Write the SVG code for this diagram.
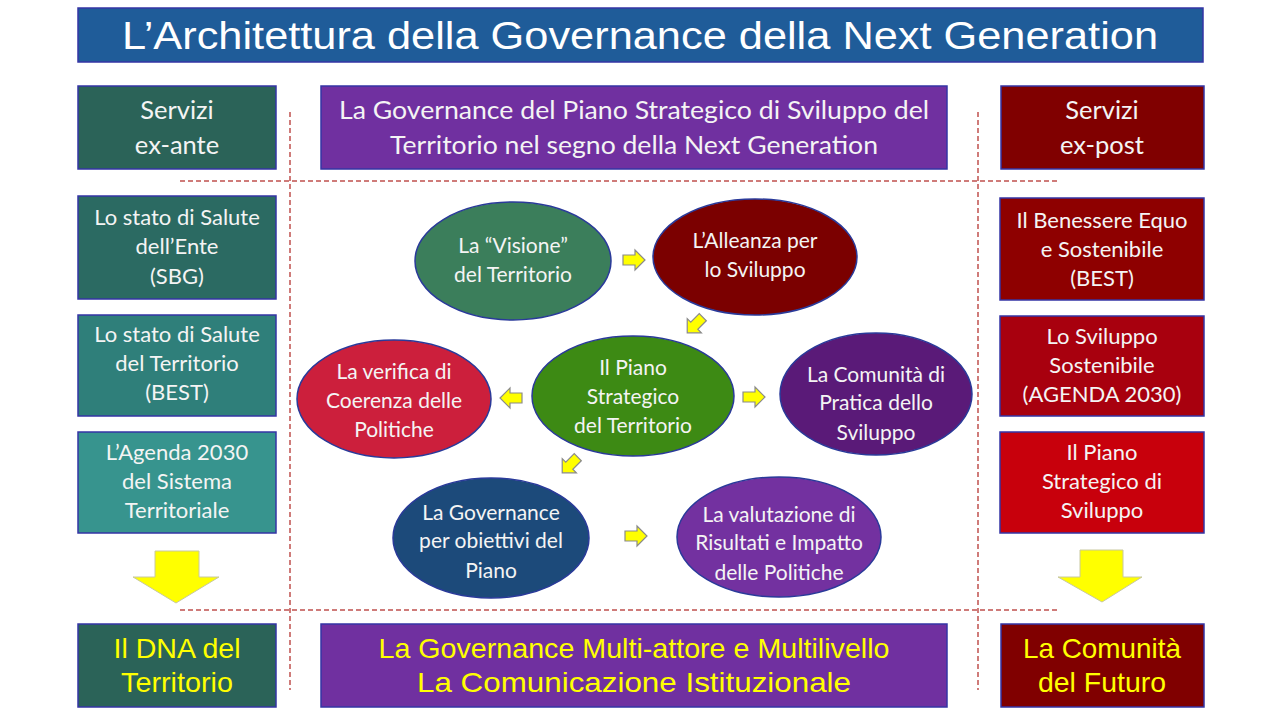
<svg xmlns="http://www.w3.org/2000/svg" width="1280" height="720" viewBox="0 0 1280 720">
<defs>
<style>
.box{stroke:#3535a5;stroke-width:1.5}
.ell{stroke:#2a3a9a;stroke-width:1.5}
.t{font-family:Lato,"Open Sans","Liberation Sans",sans-serif;fill:#f4f4f4;text-anchor:middle}
.hdr{font-size:25.5px}
.sm{font-size:22px}
.el{font-size:21px}
.yel{font-family:"Liberation Sans",Arial,sans-serif;fill:#ffff00;text-anchor:middle;font-size:28px}
.dash{stroke:#c0504d;stroke-width:1.5;stroke-dasharray:5 3;fill:none}
.sa{fill:#ffff00;stroke:#8a8a8a;stroke-width:1.2}
.ba{fill:#ffff00;stroke:#c8c8a0;stroke-width:1}
</style>
<path id="sarrow" d="M-11,-5 L1,-5 L1,-10 L11,0 L1,10 L1,5 L-11,5 Z"/>
</defs>
<rect width="1280" height="720" fill="#ffffff"/>

<g id="title">
<rect x="78" y="8" width="1125" height="54" fill="#1f5c99" class="box"/>
<text x="640" y="49" font-family="Liberation Sans,Arial,sans-serif" font-size="38" fill="#ffffff" text-anchor="middle" textLength="1036" lengthAdjust="spacingAndGlyphs">L’Architettura della Governance della Next Generation</text>
</g>

<g id="connectors">
<line class="dash" x1="290" y1="112" x2="290" y2="690"/>
<line class="dash" x1="978" y1="112" x2="978" y2="690"/>
<line class="dash" x1="180" y1="181" x2="1057" y2="181"/>
<line class="dash" x1="180" y1="610" x2="1057" y2="610"/>
<use href="#sarrow" class="sa" transform="translate(634,260)"/>
<use href="#sarrow" class="sa" transform="translate(695,325) rotate(135)"/>
<use href="#sarrow" class="sa" transform="translate(511,398) rotate(180)"/>
<use href="#sarrow" class="sa" transform="translate(754,397)"/>
<use href="#sarrow" class="sa" transform="translate(570,465) rotate(135)"/>
<use href="#sarrow" class="sa" transform="translate(636,536)"/>
<path class="ba" d="M155,551 L199,551 L199,577 L219,577 L176,603 L133,577 L155,577 Z"/>
<path class="ba" d="M1080,550 L1123,550 L1123,577 L1142,577 L1102,602 L1058,577 L1080,577 Z"/>
</g>

<g id="servizi-ex-ante">
<rect x="78" y="86" width="198" height="83" fill="#2b6358" class="box"/>
<text class="t hdr" x="177" y="119">Servizi</text>
<text class="t hdr" x="177" y="154">ex-ante</text>
</g>

<g id="header-governance">
<rect x="321" y="86" width="626" height="83" fill="#7030a0" class="box"/>
<text class="t hdr" x="634" y="119" textLength="590" lengthAdjust="spacingAndGlyphs">La Governance  del Piano Strategico di Sviluppo del</text>
<text class="t hdr" x="634" y="154" textLength="488" lengthAdjust="spacingAndGlyphs">Territorio  nel segno della Next Generation</text>
</g>

<g id="servizi-ex-post">
<rect x="1001" y="86" width="203" height="83" fill="#800000" class="box"/>
<text class="t hdr" x="1102" y="119">Servizi</text>
<text class="t hdr" x="1102" y="154">ex-post</text>
</g>

<g id="left-1">
<rect x="78" y="196" width="198" height="103" fill="#2b6a62" class="box"/>
<text class="t sm" x="177" y="225">Lo stato di Salute</text>
<text class="t sm" x="177" y="254">dell’Ente</text>
<text class="t sm" x="177" y="284">(SBG)</text>
</g>
<g id="left-2">
<rect x="78" y="315" width="198" height="101" fill="#2f7f7a" class="box"/>
<text class="t sm" x="177" y="342">Lo stato di Salute</text>
<text class="t sm" x="177" y="371">del  Territorio</text>
<text class="t sm" x="177" y="400">(BEST)</text>
</g>
<g id="left-3">
<rect x="78" y="432" width="198" height="101" fill="#37948e" class="box"/>
<text class="t sm" x="177" y="460">L’Agenda  2030</text>
<text class="t sm" x="177" y="489">del Sistema</text>
<text class="t sm" x="177" y="518">Territoriale</text>
</g>

<g id="right-1">
<rect x="1000" y="198" width="204" height="102" fill="#8e0000" class="box"/>
<text class="t sm" x="1102" y="228">Il Benessere Equo</text>
<text class="t sm" x="1102" y="257">e Sostenibile</text>
<text class="t sm" x="1102" y="286">(BEST)</text>
</g>
<g id="right-2">
<rect x="1000" y="316" width="204" height="100" fill="#a8000e" class="box"/>
<text class="t sm" x="1102" y="344">Lo Sviluppo</text>
<text class="t sm" x="1102" y="373">Sostenibile</text>
<text class="t sm" x="1102" y="402">(AGENDA 2030)</text>
</g>
<g id="right-3">
<rect x="1000" y="432" width="204" height="101" fill="#c8000c" class="box"/>
<text class="t sm" x="1102" y="460">Il Piano</text>
<text class="t sm" x="1102" y="489">Strategico di</text>
<text class="t sm" x="1102" y="518">Sviluppo</text>
</g>

<g id="visione">
<ellipse cx="513" cy="261" rx="98" ry="59" fill="#3b7e5b" class="ell"/>
<text class="t el" x="513" y="253">La “Visione”</text>
<text class="t el" x="513" y="282">del Territorio</text>
</g>
<g id="alleanza">
<ellipse cx="755" cy="257" rx="102" ry="58" fill="#7b0000" class="ell"/>
<text class="t el" x="755" y="248">L’Alleanza per</text>
<text class="t el" x="755" y="277">lo Sviluppo</text>
</g>
<g id="piano">
<ellipse cx="633" cy="396" rx="101" ry="60" fill="#3d8a14" class="ell"/>
<text class="t el" x="633" y="375">Il Piano</text>
<text class="t el" x="633" y="404">Strategico</text>
<text class="t el" x="633" y="433">del Territorio</text>
</g>
<g id="verifica">
<ellipse cx="394" cy="399" rx="97" ry="59" fill="#cc1f3c" class="ell"/>
<text class="t el" x="394" y="379">La verifica di</text>
<text class="t el" x="394" y="408">Coerenza delle</text>
<text class="t el" x="394" y="437">Politiche</text>
</g>
<g id="comunita-pratica">
<ellipse cx="876" cy="394" rx="96" ry="61" fill="#5a1a78" class="ell"/>
<text class="t el" x="876" y="382">La Comunità di</text>
<text class="t el" x="876" y="410">Pratica dello</text>
<text class="t el" x="876" y="440">Sviluppo</text>
</g>
<g id="governance-obiettivi">
<ellipse cx="491" cy="538" rx="98" ry="60" fill="#1c4a7a" class="ell"/>
<text class="t el" x="491" y="520">La Governance</text>
<text class="t el" x="491" y="548">per obiettivi del</text>
<text class="t el" x="491" y="578">Piano</text>
</g>
<g id="valutazione">
<ellipse cx="779" cy="537" rx="102" ry="60" fill="#7331a0" class="ell"/>
<text class="t el" x="779" y="522">La valutazione di</text>
<text class="t el" x="779" y="550">Risultati e Impatto</text>
<text class="t el" x="779" y="580">delle Politiche</text>
</g>

<g id="dna">
<rect x="78" y="624" width="198" height="83" fill="#2b6358" class="box"/>
<text class="yel" x="177" y="658" textLength="127" lengthAdjust="spacingAndGlyphs">Il DNA del</text>
<text class="yel" x="177" y="692" textLength="112" lengthAdjust="spacingAndGlyphs">Territorio</text>
</g>
<g id="multiattore">
<rect x="321" y="624" width="626" height="83" fill="#7030a0" class="box"/>
<text class="yel" x="634" y="658" textLength="511" lengthAdjust="spacingAndGlyphs">La Governance Multi-attore e Multilivello</text>
<text class="yel" x="634" y="692" textLength="434" lengthAdjust="spacingAndGlyphs">La Comunicazione  Istituzionale</text>
</g>
<g id="comunita-futuro">
<rect x="1001" y="624" width="203" height="83" fill="#800000" class="box"/>
<text class="yel" x="1102" y="658" textLength="158" lengthAdjust="spacingAndGlyphs">La Comunità</text>
<text class="yel" x="1102" y="692" textLength="128" lengthAdjust="spacingAndGlyphs">del Futuro</text>
</g>
</svg>
